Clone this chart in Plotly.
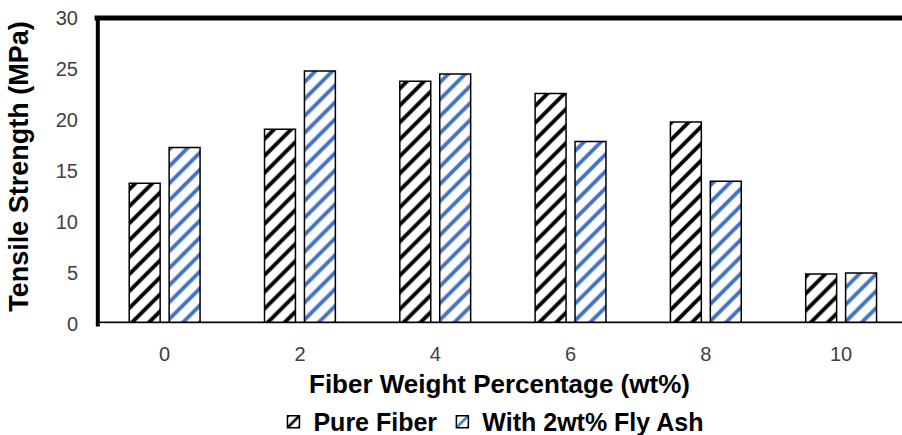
import plotly.graph_objects as go

# Tensile strength vs. fiber loading, with and without fly ash
fiber_wt = ["0", "2", "4", "6", "8", "10"]
pure_fiber = [13.8, 19.1, 23.8, 22.6, 19.8, 4.9]
with_fly_ash = [17.3, 24.8, 24.5, 17.9, 14.0, 5.0]
y_ticks = [0, 5, 10, 15, 20, 25, 30]

FONT = "Liberation Sans, Arial, sans-serif"
BLUE = "#4472C4"

fig = go.Figure()
fig.add_trace(go.Bar(
    x=fiber_wt, y=pure_fiber, name="Pure Fiber",
    marker=dict(
        color="white",
        line=dict(color="black", width=1.5),
        pattern=dict(shape="/", fgcolor="black", bgcolor="white",
                     size=12, solidity=0.32, fillmode="replace"),
    ),
))
fig.add_trace(go.Bar(
    x=fiber_wt, y=with_fly_ash, name="With 2wt% Fly Ash",
    marker=dict(
        color="white",
        line=dict(color="black", width=1.5),
        pattern=dict(shape="/", fgcolor=BLUE, bgcolor="white",
                     size=12, solidity=0.32, fillmode="replace"),
    ),
))

fig.update_layout(
    width=902, height=435,
    margin=dict(l=97, r=0, t=18, b=111, autoexpand=False),
    paper_bgcolor="white", plot_bgcolor="white",
    barmode="group", bargap=0.41, bargroupgap=0.225,
    font=dict(family=FONT, color="#404040", size=20),
    showlegend=True,
    legend=dict(
        orientation="h", x=0.49, xanchor="center", y=-0.32, yanchor="middle",
        font=dict(family=FONT, size=25, color="black", weight="bold"),
        itemwidth=30, tracegroupgap=0,
    ),
    xaxis=dict(
        type="category", range=[-0.5, 5.45],
        showline=False, showgrid=False, zeroline=False, ticks="",
        tickfont=dict(size=20, color="#404040"),
        ticklabelstandoff=16,
    ),
    yaxis=dict(
        range=[0, 30], tickvals=y_ticks,
        showline=False, showgrid=False, zeroline=False, ticks="",
        tickfont=dict(size=20, color="#404040"),
        ticklabelstandoff=18,
    ),
    annotations=[
        dict(text="<b>Fiber Weight Percentage (wt%)</b>", xref="paper", yref="paper",
             x=0.5, y=-0.195, xanchor="center", yanchor="middle", showarrow=False,
             font=dict(family=FONT, size=26, color="black")),
        dict(text="<b>Tensile Strength (MPa)</b>", xref="paper", yref="paper",
             x=-0.097, y=0.517, xanchor="center", yanchor="middle", showarrow=False,
             textangle=-90, font=dict(family=FONT, size=27, color="black")),
    ],
    shapes=[
        # top and left frame
        dict(type="line", xref="paper", yref="paper", x0=-0.003, x1=1.0, y0=1, y1=1,
             line=dict(color="black", width=5), layer="above"),
        dict(type="line", xref="paper", yref="paper", x0=0.001, x1=0.001, y0=-0.008, y1=1.006,
             line=dict(color="black", width=4), layer="above"),
        # double baseline
        dict(type="line", xref="paper", yref="y", x0=-0.001, x1=1.0, y0=0, y1=0,
             line=dict(color="black", width=5), layer="above"),
        dict(type="line", xref="paper", yref="y", x0=0.003, x1=1.0, y0=0, y1=0,
             line=dict(color="#c8c8c8", width=2), layer="above"),
    ],
)

fig.write_html("out.html")
